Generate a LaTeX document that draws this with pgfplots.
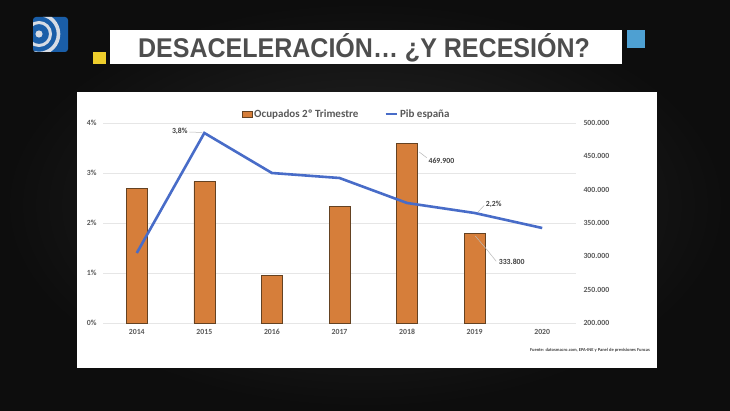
\documentclass[border=0pt]{standalone}
\usepackage{pgfplots}
\pgfplotsset{compat=1.18}
\usepackage{fontspec}
\setmainfont{Carlito}
\newfontfamily\titlefont{Liberation Sans}
\definecolor{barorange}{RGB}{214,126,58}
\definecolor{baredge}{RGB}{100,66,34}
\definecolor{lineblue}{RGB}{72,108,200}
\definecolor{ticktext}{RGB}{89,89,89}
\definecolor{labeltext}{RGB}{64,64,64}
\definecolor{gridc}{RGB}{230,230,230}
\definecolor{logoblue}{RGB}{26,94,168}
\definecolor{logowhite}{RGB}{215,220,228}
\definecolor{sqyellow}{RGB}{238,206,44}
\definecolor{sqblue}{RGB}{78,160,210}
\definecolor{titlegray}{RGB}{78,78,78}

\begin{document}
\begin{tikzpicture}[x=1pt,y=1pt]
\useasboundingbox (0,0) rectangle (730,410);
\shade[inner color=black!84, outer color=black!95] (0,0) rectangle (730,410);
% white panel
\fill[white] (77,42) rectangle (657,318);
% logo
\begin{scope}
\fill[logoblue, rounded corners=3] (33,358) rectangle (68,393);
\clip[rounded corners=3] (33,358) rectangle (68,393);
\fill[logowhite] (39,376) circle (3.6);
\draw[logowhite, line width=3] (39,376) circle (11.5);
\draw[logowhite, line width=3.6] (39,376) circle (19.5);
\end{scope}
% title banner
\fill[sqyellow] (93,346) rectangle (106,358);
\fill[white] (110,346) rectangle (622,380);
\fill[sqblue] (627,362) rectangle (645,380);
\node[anchor=base, inner sep=0, text=titlegray] at (364,352)
  {\scalebox{0.97}[1.05]{\titlefont\bfseries\fontsize{25.8}{30}\selectfont DESACELERACIÓN… ¿Y RECESIÓN?}};

% bars: Ocupados (right axis)
\begin{axis}[
  at={(103pt,87pt)}, anchor=south west,
  scale only axis, width=473pt, height=200pt,
  xmin=-0.5, xmax=6.5, ymin=200000, ymax=500000,
  axis y line*=right, axis x line*=bottom,
  axis line style={draw=none},
  major tick length=0pt,
  xtick={0,1,2,3,4,5,6},
  xticklabels={2014,2015,2016,2017,2018,2019,2020},
  ytick={200000,250000,300000,350000,400000,450000,500000},
  extra y ticks={200000,275000,350000,425000,500000},
  extra y tick labels={},
  extra y tick style={grid=major, major grid style={gridc, line width=0.7pt}},
  scaled y ticks=false,
  /pgf/number format/assume math mode=true,
  yticklabel style={font=\fontsize{7.8}{9}\selectfont\bfseries, text=ticktext,
     /pgf/number format/.cd, fixed, 1000 sep={.}},
  yticklabel shift=4pt,
  xticklabel style={font=\fontsize{7.8}{9}\selectfont\bfseries, text=ticktext},
  xticklabel shift=3pt,
  clip=true,
]
\addplot[ybar, bar width=21pt, fill=barorange, draw=baredge, line width=0.7pt]
  coordinates {(0,402000)(1,412000)(2,272000)(3,374500)(4,469900)(5,333800)};
\draw[gray!55, line width=0.5pt] (axis cs:4.18,456500) -- (axis cs:4.29,448000);
\node[anchor=west, inner sep=1pt, font=\fontsize{7.8}{9}\selectfont\bfseries, text=labeltext]
  at (axis cs:4.3,443500) {469.900};
\draw[gray!55, line width=0.5pt] (axis cs:5.01,330500) -- (axis cs:5.185,309500) -- (axis cs:5.32,292500);
\node[anchor=west, inner sep=1pt, font=\fontsize{7.8}{9}\selectfont\bfseries, text=labeltext]
  at (axis cs:5.34,291500) {333.800};
\end{axis}

% line: Pib (left axis)
\begin{axis}[
  at={(103pt,87pt)}, anchor=south west,
  scale only axis, width=473pt, height=200pt,
  xmin=-0.5, xmax=6.5, ymin=0, ymax=4,
  axis y line*=left, hide x axis,
  axis line style={draw=none},
  major tick length=0pt,
  ytick={0,1,2,3,4},
  yticklabel={\pgfmathprintnumber{\tick}\%},
  /pgf/number format/assume math mode=true,
  yticklabel style={font=\fontsize{7.8}{9}\selectfont\bfseries, text=ticktext},
  yticklabel shift=3pt,
  legend style={at={(0.515,1.0)}, anchor=south, draw=none, fill=none,
    legend columns=2, inner sep=0pt, yshift=2pt,
    font=\fontsize{11}{13}\selectfont\bfseries, text=ticktext,
    /tikz/every even column/.append style={column sep=24pt}},
]
\addlegendimage{legend image code/.code={\draw[fill=barorange, draw=baredge, line width=0.6pt] (0pt,-3.2pt) rectangle (10pt,3.2pt);}}
\addlegendentry{Ocupados 2º Trimestre}
\addplot[lineblue, line width=2.6pt, line join=miter,
  legend image code/.code={\draw[lineblue, line width=2.6pt] (0pt,0pt) -- (11pt,0pt);}]
  coordinates {(0,1.4)(1,3.8)(2,3.0)(3,2.9)(4,2.4)(5,2.2)(6,1.9)};
\addlegendentry{Pib españa}
\draw[gray!55, line width=0.5pt] (axis cs:0.78,3.82) -- (axis cs:0.97,3.81);
\node[anchor=east, inner sep=1pt, font=\fontsize{7.8}{9}\selectfont\bfseries, text=labeltext]
  at (axis cs:0.77,3.84) {3,8\%};
\draw[gray!55, line width=0.5pt] (axis cs:5.05,2.22) -- (axis cs:5.14,2.35);
\node[anchor=west, inner sep=1pt, font=\fontsize{7.8}{9}\selectfont\bfseries, text=labeltext]
  at (axis cs:5.15,2.38) {2,2\%};
\end{axis}

\node[anchor=east, inner sep=0, font=\fontsize{4.5}{5}\selectfont\bfseries, text=labeltext]
  at (650,60) {Fuente: datosmacro.com, EPA-INE y Panel de previsiones Funcas};
\end{tikzpicture}
\end{document}
